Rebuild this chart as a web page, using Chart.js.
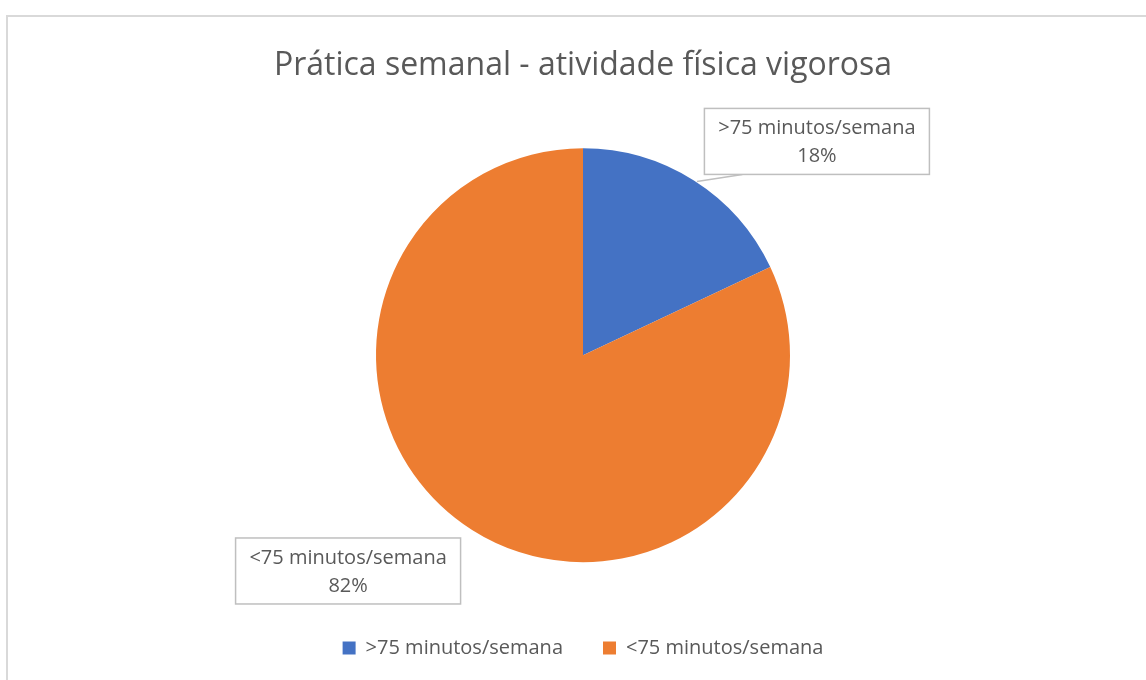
<!DOCTYPE html>
<html>
<head>
<meta charset="utf-8">
<script src="https://cdn.jsdelivr.net/npm/chart.js@4"></script>
<style>
  html, body { margin: 0; padding: 0; background: #fff; overflow: hidden; }
  #frame {
    position: absolute; left: 6px; top: 15px;
    width: 1154px; height: 720px;
    border: 2px solid #d9d9d9;
  }
  #wrap { position: absolute; left: 0; top: 0; width: 1150px; height: 700px; }
</style>
</head>
<body>
<div id="frame"><div id="wrap"><canvas id="chart"></canvas></div></div>
<script>
// ---------------------------------------------------------------------------
// Data
// ---------------------------------------------------------------------------
const titleText  = 'Prática semanal - atividade física vigorosa';
const categories = ['>75 minutos/semana', '<75 minutos/semana'];
const values     = [18, 82];
const colors     = ['#4472C4', '#ED7D31'];

const textColor = '#595959';
const fontFamily = '"Open Sans", "Noto Sans", sans-serif';

// Callout boxes, offset from the arc's outer mid point (Excel-like placement)
const calloutOffsets = [
  { dx: 123, dy: -39, leader: true },
  { dx: -124, dy: 41, leader: false },
];

const calloutPlugin = {
  id: 'callouts',
  afterDatasetsDraw(chart) {
    const ctx = chart.ctx;
    const meta = chart.getDatasetMeta(0);
    const total = values.reduce((a, b) => a + b, 0);
    const boxW = 225, boxH = 66;

    meta.data.forEach((arc, i) => {
      const p = arc.getProps(['x', 'y', 'startAngle', 'endAngle', 'outerRadius'], true);
      const mid = (p.startAngle + p.endAngle) / 2;
      const ex = p.x + Math.cos(mid) * p.outerRadius;
      const ey = p.y + Math.sin(mid) * p.outerRadius;
      const off = calloutOffsets[i];
      const cx = ex + off.dx, cy = ey + off.dy;
      const bx = cx - boxW / 2, by = cy - boxH / 2;

      ctx.save();
      ctx.strokeStyle = '#bfbfbf';
      ctx.lineWidth = 1.5;
      if (off.leader) {
        ctx.beginPath();
        ctx.moveTo(ex + 3, ey + 1);
        ctx.lineTo(bx + 38, by + boxH);
        ctx.stroke();
      }
      ctx.fillStyle = '#fff';
      ctx.fillRect(bx, by, boxW, boxH);
      ctx.strokeRect(bx, by, boxW, boxH);

      ctx.fillStyle = textColor;
      ctx.font = '20px ' + fontFamily;
      ctx.textAlign = 'center';
      ctx.textBaseline = 'middle';
      const pct = Math.round(values[i] / total * 100) + '%';
      ctx.fillText(categories[i], cx, cy - 13);
      ctx.fillText(pct, cx, cy + 15);
      ctx.restore();
    });
  }
};

new Chart(document.getElementById('chart'), {
  type: 'pie',
  data: {
    labels: categories,
    datasets: [{
      data: values,
      backgroundColor: colors,
      borderWidth: 0,
      radius: 207,
    }],
  },
  options: {
    responsive: true,
    maintainAspectRatio: false,
    animation: false,
    layout: { padding: { top: 10, bottom: 49, left: 0, right: 0 } },
    plugins: {
      title: {
        display: true,
        text: titleText,
        color: textColor,
        font: { family: fontFamily, size: 32, weight: 'normal' },
        padding: { top: 20, bottom: 27 },
      },
      legend: {
        position: 'bottom',
        labels: {
          color: textColor,
          font: { family: fontFamily, size: 20 },
          boxWidth: 13,
          boxHeight: 13,
          padding: 40,
        },
      },
      tooltip: { enabled: false },
    },
  },
  plugins: [calloutPlugin],
});
</script>
</body>
</html>
